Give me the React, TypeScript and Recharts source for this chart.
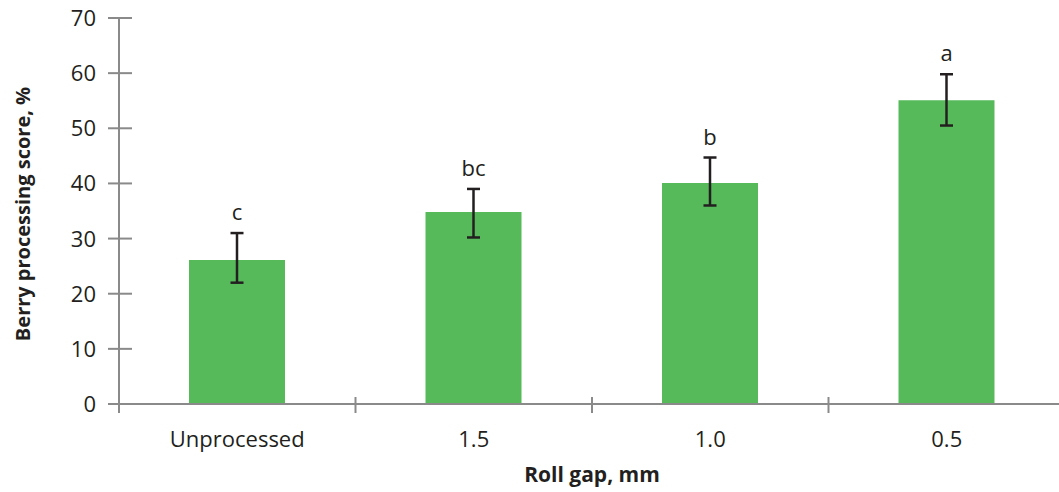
import React from 'react';
import { BarChart, Bar, XAxis, YAxis, ErrorBar, LabelList } from 'recharts';

const gaps = ['Unprocessed', '1.5', '1.0', '0.5'];
const scores = [26.1, 34.8, 40.1, 55.1];
const errLow = [22.0, 30.2, 36.0, 50.5];
const errHigh = [31.0, 39.0, 44.7, 59.8];
const letters = ['c', 'bc', 'b', 'a'];
const yTicks = [0, 10, 20, 30, 40, 50, 60, 70];

const data = gaps.map((gap, i) => ({
  gap,
  score: scores[i],
  err: [scores[i] - errLow[i], errHigh[i] - scores[i]],
  letter: letters[i],
}));

const W = 1059;
const H = 492;
const AXIS_X = 119;
const AXIS_Y = 404;
const BAND = (W - AXIS_X + 6) / gaps.length;
const GRAY = '#8a8a8a';
const INK = '#231f20';
const FONT = '"Open Sans", sans-serif';

const YTick = ({ y, payload }: any) => (
  <g>
    <line x1={AXIS_X - 11} x2={AXIS_X + 13} y1={y} y2={y} stroke={GRAY} strokeWidth={2} />
    <text x={AXIS_X - 23} y={y + 8} textAnchor="end" fontSize={22} fontFamily={FONT} fill={INK}>
      {payload.value}
    </text>
  </g>
);

const XTick = ({ x, payload }: any) => {
  const half = payload.offset ? payload.offset : BAND / 2;
  return (
    <g>
      <line x1={x - half} x2={x - half} y1={AXIS_Y - 7} y2={AXIS_Y + 9} stroke={GRAY} strokeWidth={2} />
      <text x={x} y={AXIS_Y + 43} textAnchor="middle" fontSize={22} fontFamily={FONT} fill={INK}>
        {payload.value}
      </text>
    </g>
  );
};

const LetterLabel = ({ x, y, width, height, value }: any) => {
  const i = letters.indexOf(value);
  const pxPerUnit = height / scores[i];
  const top = y - (errHigh[i] - scores[i]) * pxPerUnit;
  return (
    <text x={x + width / 2} y={top - 13} textAnchor="middle" fontSize={22} fontFamily={FONT} fill={INK}>
      {value}
    </text>
  );
};

const XTitle = ({ viewBox }: any) => (
  <text
    x={viewBox.x + viewBox.width / 2}
    y={482}
    textAnchor="middle"
    fontSize={21}
    fontWeight="bold"
    fontFamily={FONT}
    fill={INK}
  >
    Roll gap, mm
  </text>
);

const YTitle = () => (
  <text
    x={30}
    y={214}
    transform="rotate(-90, 30, 214)"
    textAnchor="middle"
    fontSize={20}
    fontWeight="bold"
    fontFamily={FONT}
    fill={INK}
  >
    Berry processing score, %
  </text>
);

export default function App() {
  return (
    <div style={{ position: 'absolute', left: 0, top: 0, width: W, height: H, background: '#fff' }}>
      <BarChart width={W} height={H} data={data} margin={{ top: 18, right: -6, left: 0, bottom: 0 }}>
        <XAxis
          dataKey="gap"
          height={H - AXIS_Y}
          axisLine={{ stroke: GRAY, strokeWidth: 2 }}
          tickLine={false}
          tickSize={0}
          tickMargin={0}
          interval={0}
          tick={<XTick />}
          label={<XTitle />}
        />
        <YAxis
          width={AXIS_X}
          domain={[0, 70]}
          ticks={yTicks}
          interval={0}
          axisLine={{ stroke: GRAY, strokeWidth: 2 }}
          tickLine={false}
          tickSize={0}
          tick={<YTick />}
          label={<YTitle />}
        />
        <Bar dataKey="score" fill="#56ba5b" barSize={96} isAnimationActive={false}>
          <ErrorBar dataKey="err" direction="y" width={6.5} stroke={INK} strokeWidth={2.5} />
          <LabelList dataKey="letter" content={<LetterLabel />} />
        </Bar>
      </BarChart>
    </div>
  );
}
